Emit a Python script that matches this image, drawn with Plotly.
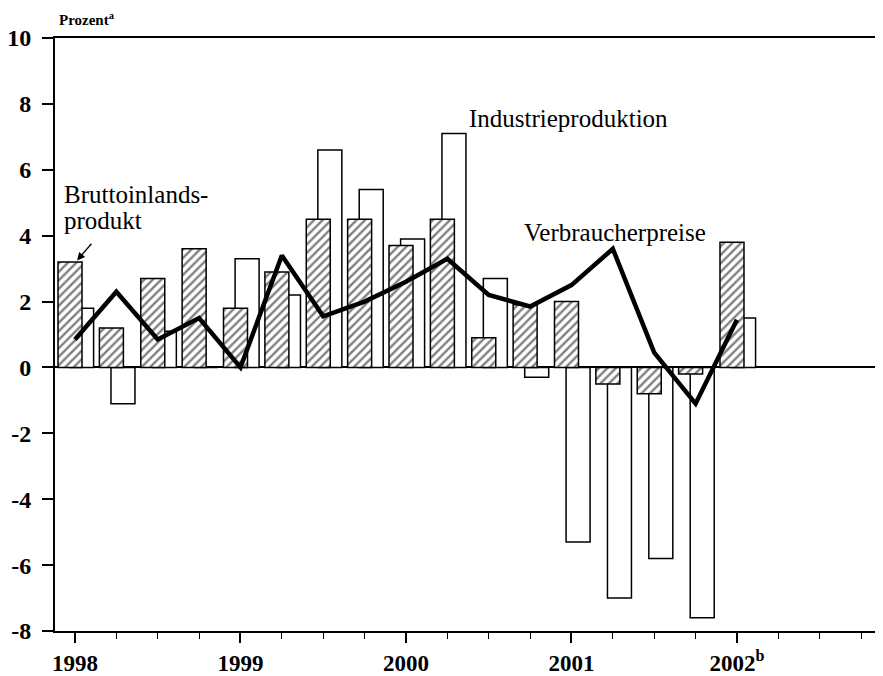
import plotly.graph_objects as go

# Quarter index 0 = 1998 Q1 ... 16 = 2002 Q1
quarters = list(range(17))
gdp = [3.2, 1.2, 2.7, 3.6, 1.8, 2.9, 4.5, 4.5, 3.7, 4.5, 0.9, 1.9, 2.0, -0.5, -0.8, -0.2, 3.8]
industry = [1.8, -1.1, 1.1, 0.0, 3.3, 2.2, 6.6, 5.4, 3.9, 7.1, 2.7, -0.3, -5.3, -7.0, -5.8, -7.6, 1.5]
cpi = [0.85, 2.3, 0.85, 1.5, 0.0, 3.4, 1.55, 2.0, 2.6, 3.3, 2.2, 1.85, 2.5, 3.6, 0.45, -1.1, 1.45]

year_ticks = [0, 4, 8, 12, 16]
year_labels = ["1998", "1999", "2000", "2001", "2002<sup>b</sup>"]
y_ticks = [-8, -6, -4, -2, 0, 2, 4, 6, 8, 10]
y_labels = ["-8", "-6", "-4", "-2", "0", "2", "4", "6", "8", "10"]

FONT = "Liberation Serif"

fig = go.Figure()

fig.add_trace(go.Bar(
    x=quarters, y=industry, width=0.58, offset=-0.13,
    marker=dict(color="white", line=dict(color="black", width=1.5)),
    name="Industrieproduktion", showlegend=False,
))
fig.add_trace(go.Bar(
    x=quarters, y=gdp, width=0.58, offset=-0.41,
    marker=dict(color="white", line=dict(color="black", width=1.5),
                pattern=dict(shape="/", fgcolor="black", bgcolor="white", size=6, solidity=0.4)),
    name="Bruttoinlandsprodukt", showlegend=False,
))
fig.add_trace(go.Scatter(
    x=quarters, y=cpi, mode="lines",
    line=dict(color="black", width=4.5),
    name="Verbraucherpreise", showlegend=False,
))

fig.update_layout(
    width=875, height=668,
    margin=dict(l=47, r=0, t=30, b=45, autoexpand=False),
    paper_bgcolor="white", plot_bgcolor="white",
    barmode="overlay",
    font=dict(family=FONT, color="black", size=22),
    xaxis=dict(
        range=[-0.483, 19.53], showgrid=False, zeroline=False,
        showline=True, linecolor="black", linewidth=2, mirror=True,
        tickmode="array", tickvals=year_ticks, ticktext=year_labels,
        ticks="outside", ticklen=10, tickwidth=1.5, tickcolor="black",
        minor=dict(dtick=1, tick0=0, ticks="outside", ticklen=6, tickwidth=1.2, tickcolor="black"),
        tickfont=dict(family=FONT, size=23, color="black", weight="bold"),
        ticklabelstandoff=0,
    ),
    yaxis=dict(
        range=[-8, 10], showgrid=False,
        zeroline=True, zerolinecolor="black", zerolinewidth=1.5,
        showline=True, linecolor="black", linewidth=2,
        tickmode="array", tickvals=y_ticks, ticktext=y_labels,
        ticks="outside", ticklen=11, tickwidth=1.5, tickcolor="black",
        tickfont=dict(family=FONT, size=24, color="black", weight="bold"),
        ticklabelstandoff=6,
    ),
    annotations=[
        dict(text="<b>Prozent<sup>a</sup></b>", xref="paper", yref="paper",
             x=0.003, y=1.0, yshift=8, xanchor="left", yanchor="bottom", showarrow=False,
             font=dict(family=FONT, size=15, color="black")),
        dict(text="Bruttoinlands-", x=-0.31, y=5.25, xref="x", yref="y",
             xanchor="left", yanchor="middle", showarrow=False,
             font=dict(family=FONT, size=25, color="black")),
        dict(text="produkt", x=-0.31, y=4.45, xref="x", yref="y",
             xanchor="left", yanchor="middle", showarrow=False,
             font=dict(family=FONT, size=25, color="black")),
        dict(text="", x=0.05, y=3.25, xref="x", yref="y",
             ax=0.43, ay=3.8, axref="x", ayref="y",
             showarrow=True, arrowhead=2, arrowsize=1.2, arrowwidth=1.3, arrowcolor="black"),
        dict(text="Industrieproduktion", x=11.94, y=7.55, xref="x", yref="y",
             xanchor="center", yanchor="middle", showarrow=False,
             font=dict(family=FONT, size=25, color="black")),
        dict(text="Verbraucherpreise", x=13.05, y=4.1, xref="x", yref="y",
             xanchor="center", yanchor="middle", showarrow=False,
             font=dict(family=FONT, size=25, color="black")),
    ],
)

fig.write_html("out.html")
